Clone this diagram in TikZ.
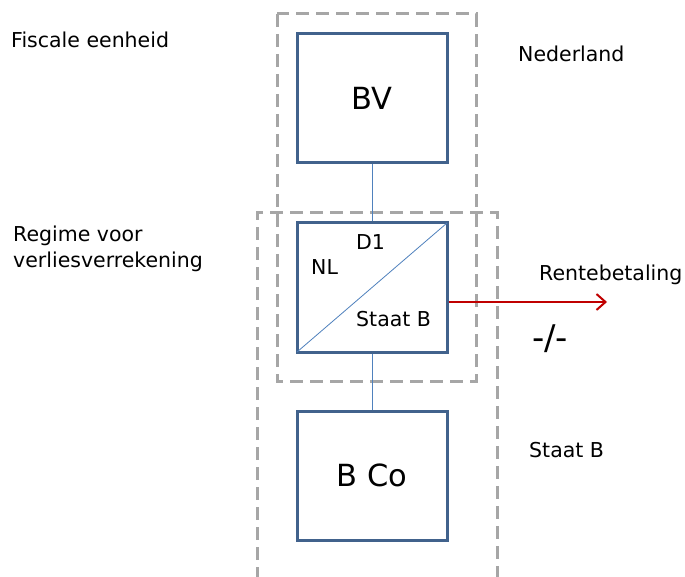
\documentclass[tikz,border=0pt]{standalone}
\usepackage{fontspec}
\setmainfont{DejaVu Sans}
\usetikzlibrary{arrows.meta}
\definecolor{boxblue}{RGB}{65,98,140}
\definecolor{linkblue}{RGB}{79,129,189}
\definecolor{dashgray}{RGB}{166,166,166}
\definecolor{arrowred}{RGB}{192,0,0}
\begin{document}
\begin{tikzpicture}[x=1pt,y=-1pt,
  entity/.style={draw=boxblue,line width=3pt,fill=white,minimum width=150pt,minimum height=129pt,inner sep=0pt,font=\fontsize{30.5}{36}\selectfont},
  region/.style={draw=dashgray,line width=3pt,dash pattern=on 13pt off 7pt},
  link/.style={draw=linkblue,line width=0.8pt},
  lbl/.style={inner sep=0pt,anchor=base west,font=\fontsize{20.5}{26}\selectfont},
  flow/.style={draw=arrowred,line width=2pt,-{Straight Barb[length=9pt,width=16pt,line width=2pt]}}
]
\useasboundingbox (0,0) rectangle (685,577);
% dashed regions
\draw[region] (277,14) rectangle (476,381);
\begin{scope}
\clip (0,0) rectangle (685,577);
\draw[region] (257,600) -- (257,213) -- (497,213) -- (497,600);
\end{scope}
% entities
\node[entity] (BV) at (372,98.5) {BV};
\node[entity] (D1) at (372,287.5) {};
\node[entity] (BCo) at (372,475.5) {B Co};
\draw[link] (BV.south) -- (D1.north);
\draw[link] (D1.south) -- (BCo.north);
\draw[link] ([shift={(1.5pt,1.5pt)}]D1.south west) -- ([shift={(-1.5pt,-1.5pt)}]D1.north east);
% labels inside D1
\node[lbl] (d1t) at (356,250) {D1};
\node[lbl] (nlt) at (311,275) {NL};
\node[lbl] (sbt) at (356,326) {Staat B};
% arrow
\coordinate (rt) at (607,302);
\draw[flow] (D1.east |- rt) -- (rt);
\node[lbl] (rente) at (539,280) {Rentebetaling};
\node[inner sep=0pt,font=\fontsize{34}{40}\selectfont] (neg) at (550,339) {-/-};
% side labels
\node[lbl] (fe) at (11,48) {Fiscale eenheid};
\node[lbl] (nl) at (518,62) {Nederland};
\node[lbl] (rv) at (13,242) {Regime voor};
\node[lbl] (rv2) at (13,268) {verliesverrekening};
\node[lbl] (sb) at (529,457) {Staat B};
\end{tikzpicture}
\end{document}
